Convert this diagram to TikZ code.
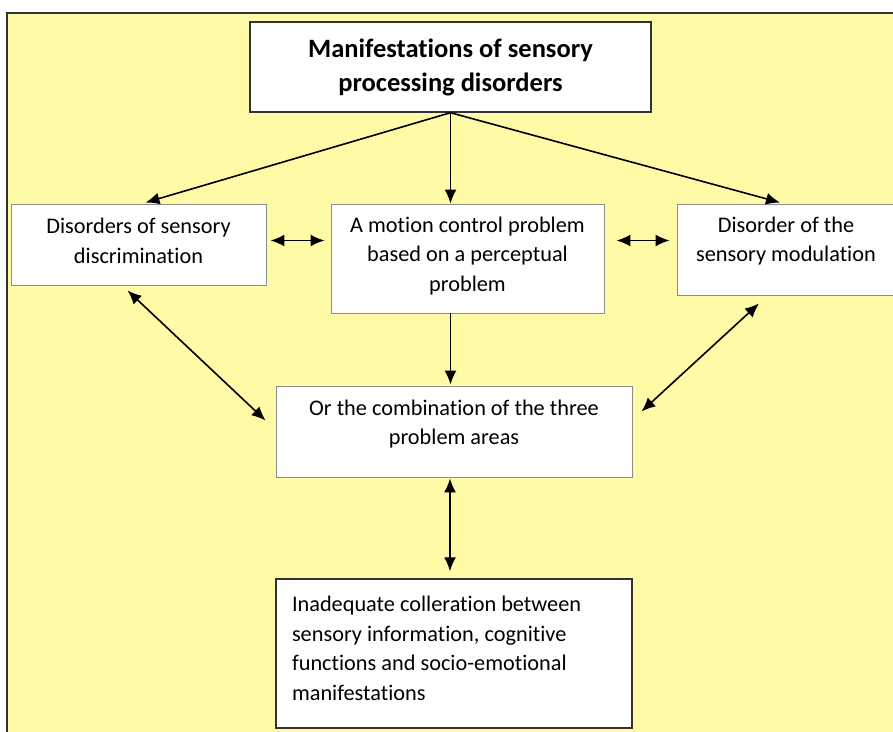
\documentclass[tikz,border=0pt]{standalone}
\usepackage{fontspec}
\setmainfont{Carlito}[RawFeature={-liga;-clig;-calt;-dlig}]
\usetikzlibrary{arrows.meta,calc}
\definecolor{bgyellow}{RGB}{255,250,165}
\definecolor{edgegray}{RGB}{140,140,140}
\definecolor{darkedge}{RGB}{50,50,50}
\begin{document}
\begin{tikzpicture}[x=1pt,y=-1pt,
  base/.style={fill=white,inner sep=0pt,align=center,font=\fontsize{22.3}{29.5}\selectfont,text=black},
  softbox/.style={base,draw=edgegray,line width=0.9pt},
  hardbox/.style={base,draw=darkedge,line width=1.4pt},
  arr/.style={line width=1.6pt,-{Latex[length=14pt,width=12pt]}},
  darr/.style={line width=1.6pt,{Latex[length=14pt,width=12pt]}-{Latex[length=14pt,width=12pt]}}]
\useasboundingbox (0,0) rectangle (893,731);
\fill[white] (0,0) rectangle (893,731);
\fill[bgyellow] (7,13) rectangle (900,740);
\draw[darkedge,line width=1.2pt] (7,740) -- (7,13) -- (900,13);

\node[hardbox,minimum width=401pt,minimum height=90pt,font=\bfseries\fontsize{26.5}{34}\selectfont] (title) at (450.5,67) {Manifestations of sensory\\processing disorders};
\node[softbox,minimum width=255pt,minimum height=81pt] (left) at (138.5,244.5) {Disorders of sensory\\discrimination\par\vspace*{7pt}};
\node[softbox,minimum width=273pt,minimum height=109pt] (center) at (467.5,258.5) {A motion control problem\\based on a perceptual\\problem\par\vspace*{5pt}};
\node[softbox,minimum width=218pt,minimum height=91pt] (right) at (786,249.5) {Disorder of the\\sensory modulation\par\vspace*{17pt}};
\node[softbox,minimum width=356pt,minimum height=91pt] (comb) at (454,431.5) {Or the combination of the three\\problem areas\par\vspace*{15pt}};
\node[hardbox,minimum width=356pt,minimum height=149pt,text width=324pt,align=flush left] (bottom) at (454,653.5) {Inadequate colleration between\\sensory information, cognitive\\functions and socio-emotional\\manifestations\par\vspace*{10pt}};

\draw[arr] (title.south) -- ($(left.north)+(7,-1)$);
\draw[arr] (title.south) -- (title.south |- center.north);
\draw[arr] (title.south) -- ($(right.north)+(-6,-1)$);
\draw[darr] ($(left.east)+(4,-4)$) -- ($(center.west)+(-6,-18)$);
\draw[darr] ($(center.east)+(12,-18)$) -- ($(right.west)+(-7,-9)$);
\draw[arr] (center.south -| title.south) -- ($(comb.north -| title.south)+(0,-1)$);
\draw[darr] ($(left.south)+(-11,5)$) -- ($(comb.west)+(-10,-11)$);
\draw[darr] ($(right.south)+(-27,8)$) -- ($(comb.east)+(9,-20)$);
\draw[darr] ($(comb.south)+(-4,1)$) -- ($(bottom.north)+(-4,-7)$);
\end{tikzpicture}
\end{document}
